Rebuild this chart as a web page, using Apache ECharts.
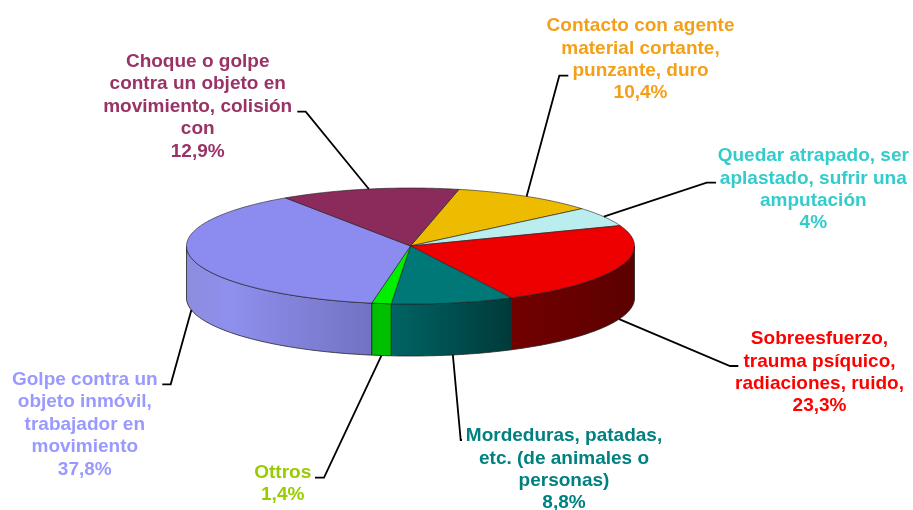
<!DOCTYPE html>
<html>
<head>
<meta charset="utf-8">
<title>Accidentes por forma</title>
<script src="https://cdn.jsdelivr.net/npm/echarts@6/dist/echarts.min.js"></script>
<style>
  html, body { margin: 0; padding: 0; background: #fff; }
  #chart { width: 913px; height: 510px; }
</style>
</head>
<body>
<div id="chart"></div>
<script>
// slices clockwise, starting from the one right of the top
const categories = [
  "Contacto con agente\nmaterial cortante,\npunzante, duro",
  "Quedar atrapado, ser\naplastado, sufrir una\namputación",
  "Sobreesfuerzo,\ntrauma psíquico,\nradiaciones, ruido,",
  "Mordeduras, patadas,\netc. (de animales o\npersonas)",
  "Ottros",
  "Golpe contra un\nobjeto inmóvil,\ntrabajador en\nmovimiento",
  "Choque o golpe\ncontra un objeto en\nmovimiento, colisión\ncon"
];
// the slice drawn for "Quedar atrapado" is about 5.4 wide although its label says 4%
const values = [10.4, 5.4, 23.3, 8.8, 1.4, 37.8, 12.9];
const percentLabels = ["10,4%", "4%", "23,3%", "8,8%", "1,4%", "37,8%", "12,9%"];

// pie geometry
const cx = 410.5, cy = 246, rx = 224, ry = 58, depth = 52;
const startAngle = 12.5;

const topColors = ["#EDBB00", "#BAEDED", "#EE0000", "#007878", "#00EE00", "#8C8CF0", "#8B2B5B"];
const textColors = ["#F59F17", "#33CCCC", "#FF0000", "#008080", "#99CC00", "#9999FF", "#993366"];
const sideStops = [
  ["#8E7000", "#8E7000"],
  ["#708E8E", "#708E8E"],
  ["#720000", "#5C0000"],
  ["#006464", "#003A3A"],
  ["#00BE00", "#00BE00"],
  ["#8C8CDE", "#8F8FEE", "#7272C2"],
  ["#531B37", "#531B37"]
];
// label block centre, elbow of the leader and where it stops
const labelCenter = [[640.5, 59.5], [813.3, 189.5], [819.5, 372.5], [564, 469.5], [282.7, 484], [84.8, 424.5], [197.7, 106.5]];
const elbow = [[559.3, 75.7], [706.7, 182.7], [730, 366], [460.7, 440], [324, 477.7], [170.7, 384.3], [305.7, 111.7]];
const leaderEnd = [[568.3, 75.7], [716, 182.7], [738.3, 366], [462, 440], [315, 477.7], [162.3, 384.3], [297.3, 111.7]];

const total = values.reduce((a, b) => a + b, 0);

function rimPoint(deg, dy) {
  const t = deg * Math.PI / 180;
  return [cx + rx * Math.sin(t), cy - ry * Math.cos(t) + dy];
}

function arc(from, to, dy) {
  const pts = [];
  const n = Math.max(2, Math.ceil(Math.abs(to - from)));
  for (let i = 0; i <= n; i++) {
    pts.push(rimPoint(from + (to - from) * i / n, dy));
  }
  return pts;
}

function renderSlice(params, api) {
  const i = params.dataIndex;
  let before = 0;
  for (let k = 0; k < i; k++) before += values[k];
  const a0 = startAngle + before / total * 360;
  const a1 = a0 + api.value(0) / total * 360;
  const mid = (a0 + a1) / 2;
  const children = [];

  // side wall, only the part on the front half
  const s0 = Math.max(a0, 90), s1 = Math.min(a1, 270);
  if (s1 > s0) {
    const stops = sideStops[i].map((c, k, arr) => {
      // the lit spot of the big slice sits near its left end
      const offset = arr.length === 3 ? [0, 0.24, 1][k] : k / (arr.length - 1);
      return { offset: offset, color: c };
    });
    children.push({
      type: "polygon",
      shape: { points: arc(s0, s1, 0).concat(arc(s1, s0, depth)) },
      style: {
        fill: new echarts.graphic.LinearGradient(0, 0, 1, 0, stops),
        stroke: "#222",
        lineWidth: 0.8
      }
    });
  }

  // top face
  children.push({
    type: "polygon",
    shape: { points: [[cx, cy]].concat(arc(a0, a1, 0)) },
    style: { fill: topColors[i], stroke: "rgba(30,30,30,0.75)", lineWidth: 0.8 }
  });

  // leader starts on the rim at the middle of the slice
  const front = mid > 90 && mid < 270;
  children.push({
    type: "polyline",
    shape: { points: [rimPoint(mid, front ? depth : 0), elbow[i], leaderEnd[i]] },
    style: { fill: null, stroke: "#000", lineWidth: 1.8 }
  });

  children.push({
    type: "text",
    style: {
      x: labelCenter[i][0],
      y: labelCenter[i][1],
      text: categories[i] + "\n" + percentLabels[i],
      fill: textColors[i],
      font: "bold 19px 'Liberation Sans', Arial, sans-serif",
      lineHeight: 22.4,
      align: "center",
      verticalAlign: "middle"
    }
  });

  return { type: "group", children: children };
}

const myChart = echarts.init(document.getElementById("chart"));
myChart.setOption({
  backgroundColor: "#fff",
  animation: false,
  series: [
    {
      type: "custom",
      coordinateSystem: "none",
      silent: true,
      renderItem: renderSlice,
      data: values.map(v => [v])
    }
  ]
});
</script>
</body>
</html>
